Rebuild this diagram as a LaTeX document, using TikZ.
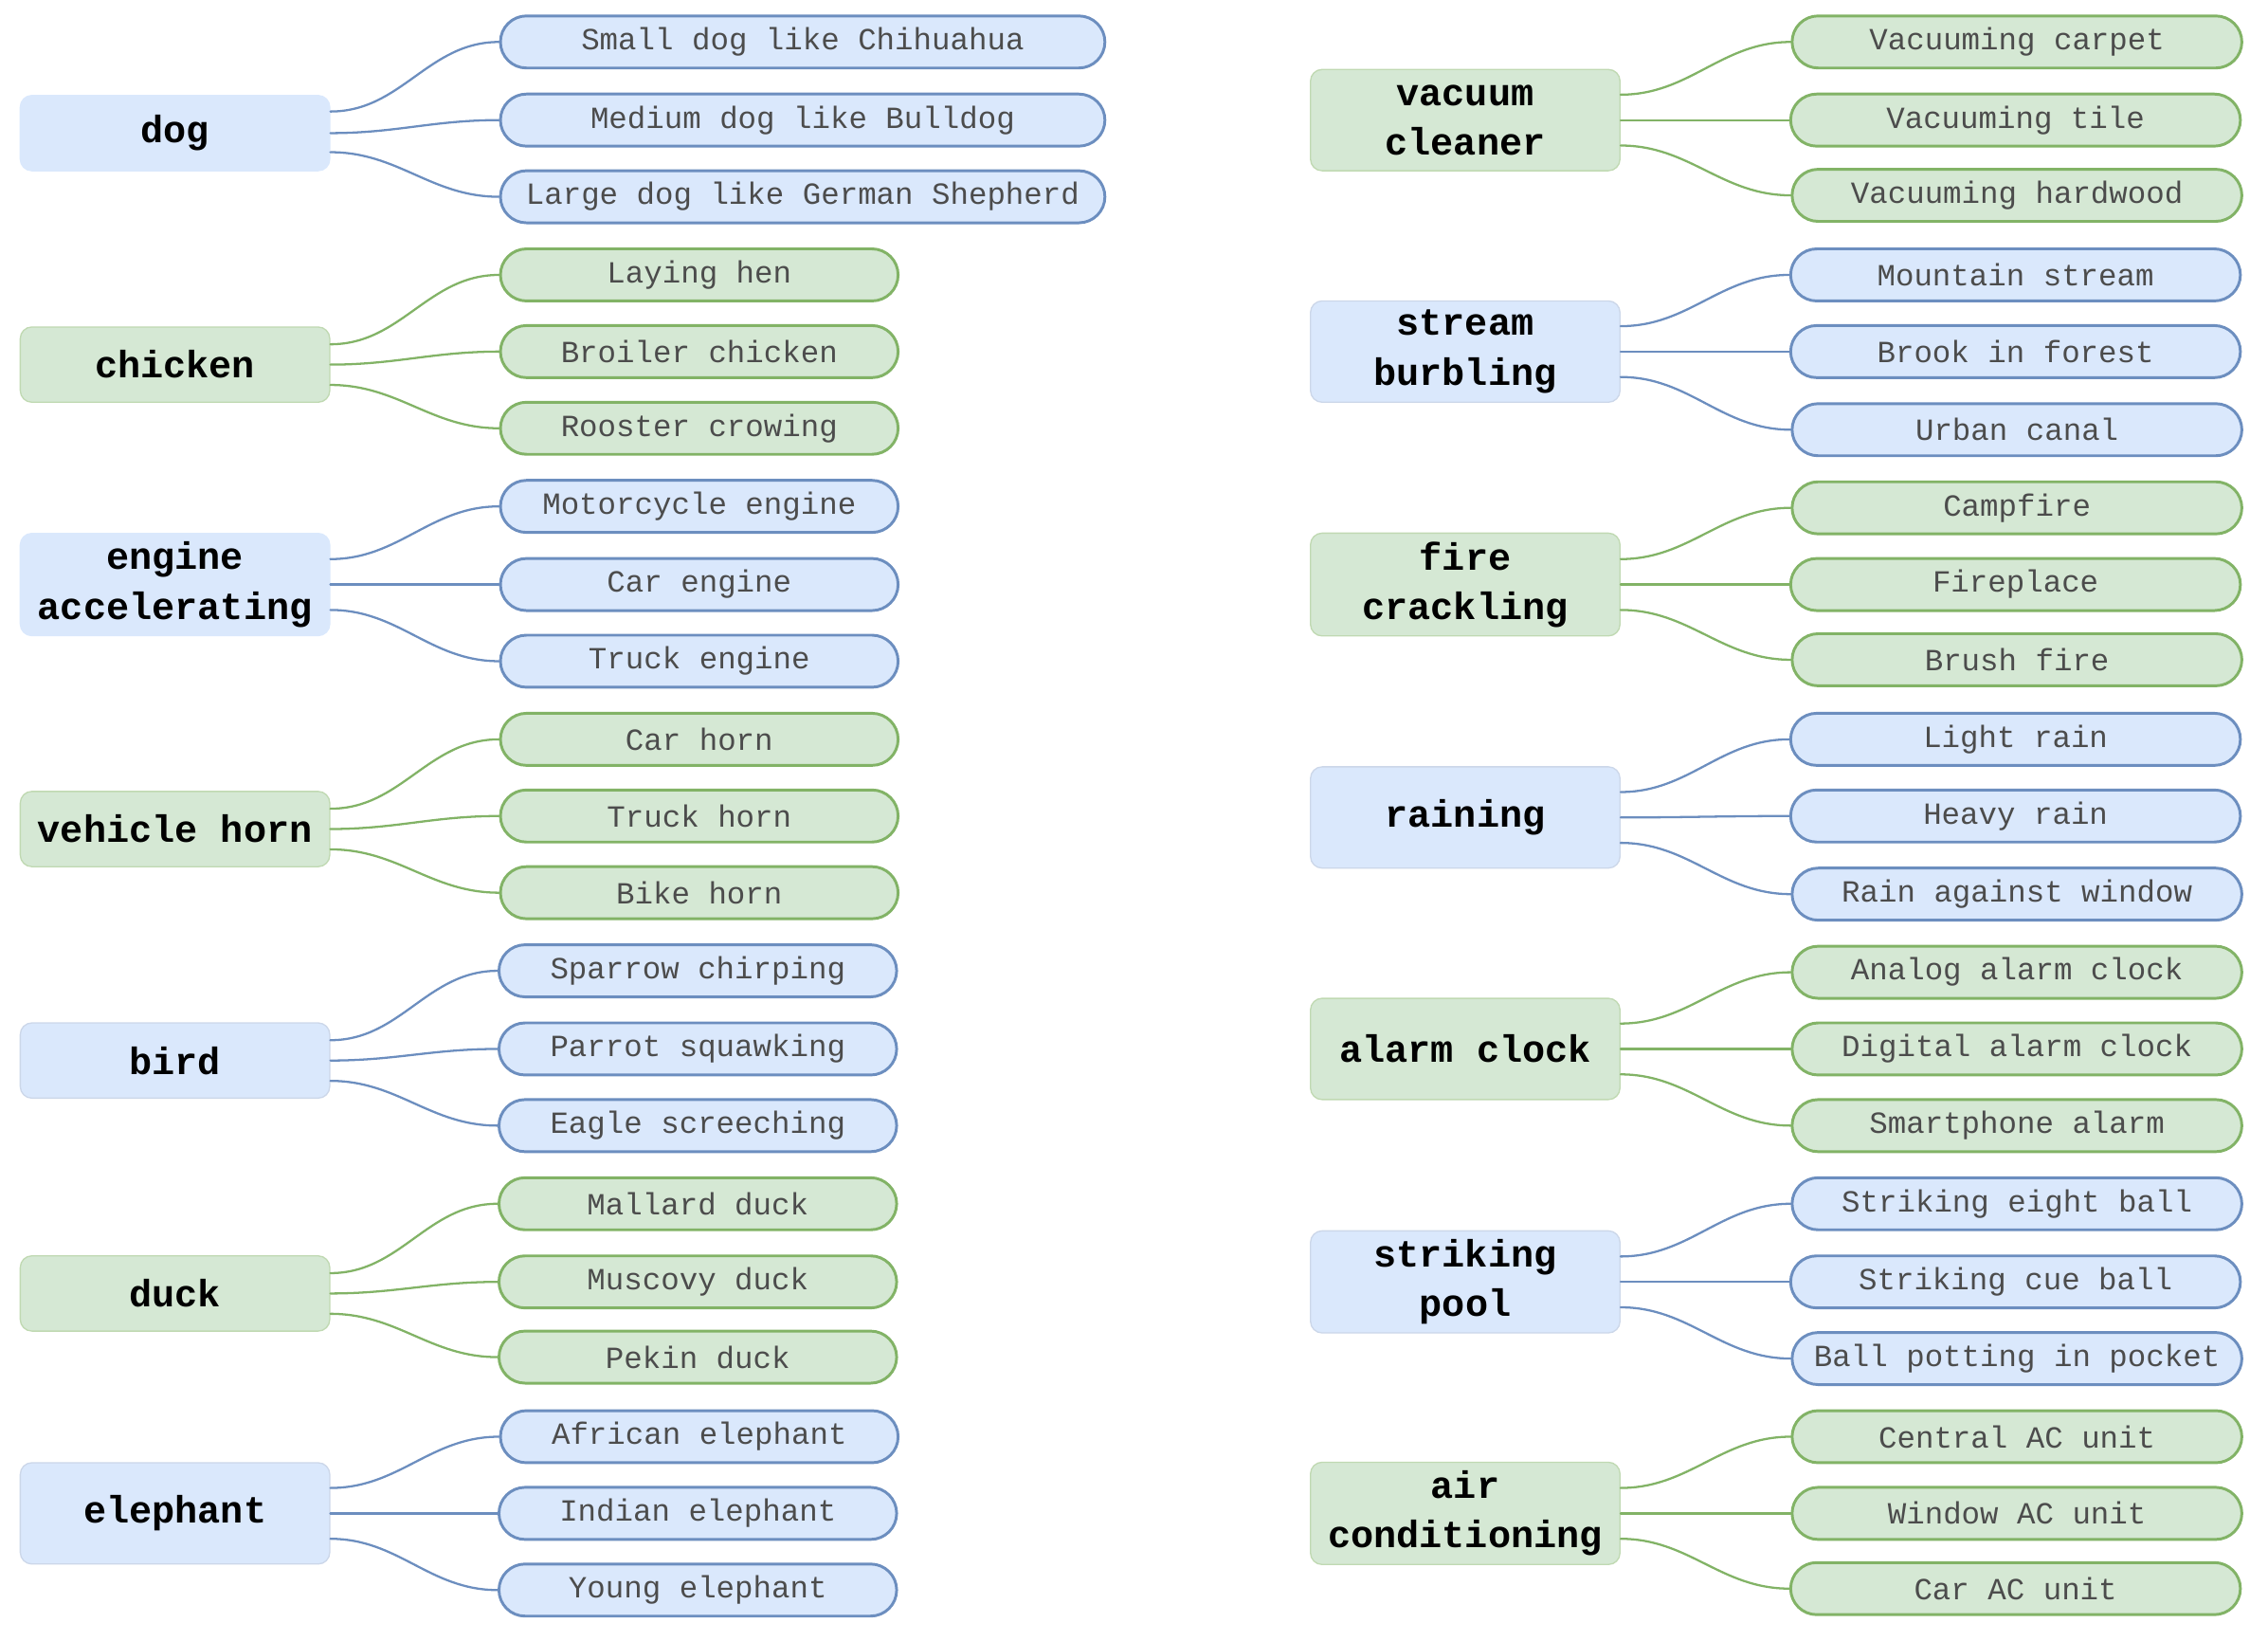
\documentclass[tikz,border=0pt]{standalone}
\usepackage{fontspec}
\newfontfamily\monofont{Liberation Mono}
\definecolor{bluefill}{HTML}{DAE8FC}
\definecolor{blueline}{HTML}{6C8EBF}
\definecolor{greenfill}{HTML}{D5E8D4}
\definecolor{greenline}{HTML}{82B366}
\begin{document}
\begin{tikzpicture}[
	x=0.02cm,
	y=-0.02cm,
	line cap=round,
	line join=round,
	topic/.style={rounded corners=0.16cm, line width=0.5pt, minimum width=4.28cm, minimum height=1.04cm,
		align=center, font=\monofont\fontsize{15}{19.5}\selectfont\bfseries},
	tall/.style={minimum height=1.4cm},
	leaf/.style={rounded corners=0.36cm, line width=1.1pt, minimum height=0.72cm, anchor=west,
		text=black!70, font=\monofont\fontsize{12.1}{14}\selectfont},
	bluetopic/.style={topic, fill=bluefill, draw=blueline!35},
	greentopic/.style={topic, fill=greenfill, draw=greenline!50},
	blueleaf/.style={leaf, fill=bluefill, draw=blueline},
	greenleaf/.style={leaf, fill=greenfill, draw=greenline},
	short/.style={minimum width=5.5cm},
	long/.style={minimum width=8.36cm},
	wide/.style={minimum width=6.22cm},
	branch/.style={line width=0.85pt, out=0, in=180}
	]
	\useasboundingbox (0,0) rectangle (1568,1134);
	% left column
	\node[bluetopic, draw=bluefill] (dog) at (121,92) {dog};
	\node[blueleaf, long] (dog1) at (345,29) {Small dog like Chihuahua};
	\node[blueleaf, long] (dog2) at (345,83) {Medium dog like Bulldog};
	\node[blueleaf, long] (dog3) at (345,136) {Large dog like German Shepherd};

	\node[greentopic] (chicken) at (121,252) {chicken};
	\node[greenleaf, short] (chicken1) at (345,190) {Laying hen};
	\node[greenleaf, short] (chicken2) at (345,243) {Broiler chicken};
	\node[greenleaf, short] (chicken3) at (345,296) {Rooster crowing};

	\node[bluetopic, tall, draw=bluefill] (engine) at (121,404) {engine\\accelerating};
	\node[blueleaf, short] (engine1) at (345,350) {Motorcycle engine};
	\node[blueleaf, short] (engine2) at (345,404) {Car engine};
	\node[blueleaf, short] (engine3) at (345,457) {Truck engine};

	\node[greentopic] (horn) at (121,573) {vehicle horn};
	\node[greenleaf, short] (horn1) at (345,511) {Car horn};
	\node[greenleaf, short] (horn2) at (345,564) {Truck horn};
	\node[greenleaf, short] (horn3) at (345,617) {Bike horn};

	\node[bluetopic] (bird) at (121,733) {bird};
	\node[blueleaf, short] (bird1) at (344,671) {Sparrow chirping};
	\node[blueleaf, short] (bird2) at (344,725) {Parrot squawking};
	\node[blueleaf, short] (bird3) at (344,778) {Eagle screeching};

	\node[greentopic] (duck) at (121,894) {duck};
	\node[greenleaf, short] (duck1) at (344,832) {Mallard duck};
	\node[greenleaf, short] (duck2) at (344,886) {Muscovy duck};
	\node[greenleaf, short] (duck3) at (344,938) {Pekin duck};

	\node[bluetopic, tall] (elephant) at (121,1046) {elephant};
	\node[blueleaf, short] (elephant1) at (345,993) {African elephant};
	\node[blueleaf, short] (elephant2) at (344,1046) {Indian elephant};
	\node[blueleaf, short] (elephant3) at (344,1099) {Young elephant};

	% right column
	\node[greentopic, tall] (vacuum) at (1013,83) {vacuum\\cleaner};
	\node[greenleaf, wide] (vacuum1) at (1238,29) {Vacuuming carpet};
	\node[greenleaf, wide] (vacuum2) at (1237,83) {Vacuuming tile};
	\node[greenleaf, wide] (vacuum3) at (1238,135) {Vacuuming hardwood};

	\node[bluetopic, tall] (stream) at (1013,243) {stream\\burbling};
	\node[blueleaf, wide] (stream1) at (1237,190) {Mountain stream};
	\node[blueleaf, wide] (stream2) at (1237,243) {Brook in forest};
	\node[blueleaf, wide] (stream3) at (1238,297) {Urban canal};

	\node[greentopic, tall] (fire) at (1013,404) {fire\\crackling};
	\node[greenleaf, wide] (fire1) at (1238,351) {Campfire};
	\node[greenleaf, wide] (fire2) at (1237,404) {Fireplace};
	\node[greenleaf, wide] (fire3) at (1238,456) {Brush fire};

	\node[bluetopic, tall] (rain) at (1013,565) {raining};
	\node[blueleaf, wide] (rain1) at (1237,511) {Light rain};
	\node[blueleaf, wide] (rain2) at (1237,564) {Heavy rain};
	\node[blueleaf, wide] (rain3) at (1238,618) {Rain against window};

	\node[greentopic, tall] (alarm) at (1013,725) {alarm clock};
	\node[greenleaf, wide] (alarm1) at (1238,672) {Analog alarm clock};
	\node[greenleaf, wide] (alarm2) at (1238,725) {Digital alarm clock};
	\node[greenleaf, wide] (alarm3) at (1238,778) {Smartphone alarm};

	\node[bluetopic, tall] (pool) at (1013,886) {striking\\pool};
	\node[blueleaf, wide] (pool1) at (1238,832) {Striking eight ball};
	\node[blueleaf, wide] (pool2) at (1237,886) {Striking cue ball};
	\node[blueleaf, wide] (pool3) at (1238,939) {Ball potting in pocket};

	\node[greentopic, tall] (aircon) at (1013,1046) {air\\conditioning};
	\node[greenleaf, wide] (aircon1) at (1238,993) {Central AC unit};
	\node[greenleaf, wide] (aircon2) at (1238,1046) {Window AC unit};
	\node[greenleaf, wide] (aircon3) at (1237,1098) {Car AC unit};

	% branches
	\begin{scope}[blueline]
		\draw[branch] ([yshift=8.5pt]dog.east) to (dog1.west);
		\draw[branch] (dog.east) to (dog2.west);
		\draw[branch] ([yshift=-7.5pt]dog.east) to (dog3.west);
		\draw[branch] ([yshift=10pt]engine.east) to (engine1.west);
		\draw[branch] (engine.east) to (engine2.west);
		\draw[branch] ([yshift=-10pt]engine.east) to (engine3.west);
		\draw[branch] ([yshift=8pt]bird.east) to (bird1.west);
		\draw[branch] (bird.east) to (bird2.west);
		\draw[branch] ([yshift=-8pt]bird.east) to (bird3.west);
		\draw[branch] ([yshift=10pt]elephant.east) to (elephant1.west);
		\draw[branch] (elephant.east) to (elephant2.west);
		\draw[branch] ([yshift=-10pt]elephant.east) to (elephant3.west);
		\draw[branch] ([yshift=10pt]stream.east) to (stream1.west);
		\draw[branch] (stream.east) to (stream2.west);
		\draw[branch] ([yshift=-10pt]stream.east) to (stream3.west);
		\draw[branch] ([yshift=10pt]rain.east) to (rain1.west);
		\draw[branch] (rain.east) to (rain2.west);
		\draw[branch] ([yshift=-10pt]rain.east) to (rain3.west);
		\draw[branch] ([yshift=10pt]pool.east) to (pool1.west);
		\draw[branch] (pool.east) to (pool2.west);
		\draw[branch] ([yshift=-10pt]pool.east) to (pool3.west);
	\end{scope}
	\begin{scope}[greenline]
		\draw[branch] ([yshift=8pt]chicken.east) to (chicken1.west);
		\draw[branch] (chicken.east) to (chicken2.west);
		\draw[branch] ([yshift=-8pt]chicken.east) to (chicken3.west);
		\draw[branch] ([yshift=8pt]horn.east) to (horn1.west);
		\draw[branch] (horn.east) to (horn2.west);
		\draw[branch] ([yshift=-8pt]horn.east) to (horn3.west);
		\draw[branch] ([yshift=8pt]duck.east) to (duck1.west);
		\draw[branch] (duck.east) to (duck2.west);
		\draw[branch] ([yshift=-8pt]duck.east) to (duck3.west);
		\draw[branch] ([yshift=10pt]vacuum.east) to (vacuum1.west);
		\draw[branch] (vacuum.east) to (vacuum2.west);
		\draw[branch] ([yshift=-10pt]vacuum.east) to (vacuum3.west);
		\draw[branch] ([yshift=10pt]fire.east) to (fire1.west);
		\draw[branch] (fire.east) to (fire2.west);
		\draw[branch] ([yshift=-10pt]fire.east) to (fire3.west);
		\draw[branch] ([yshift=10pt]alarm.east) to (alarm1.west);
		\draw[branch] (alarm.east) to (alarm2.west);
		\draw[branch] ([yshift=-10pt]alarm.east) to (alarm3.west);
		\draw[branch] ([yshift=10pt]aircon.east) to (aircon1.west);
		\draw[branch] (aircon.east) to (aircon2.west);
		\draw[branch] ([yshift=-10pt]aircon.east) to (aircon3.west);
	\end{scope}
\end{tikzpicture}
\end{document}
